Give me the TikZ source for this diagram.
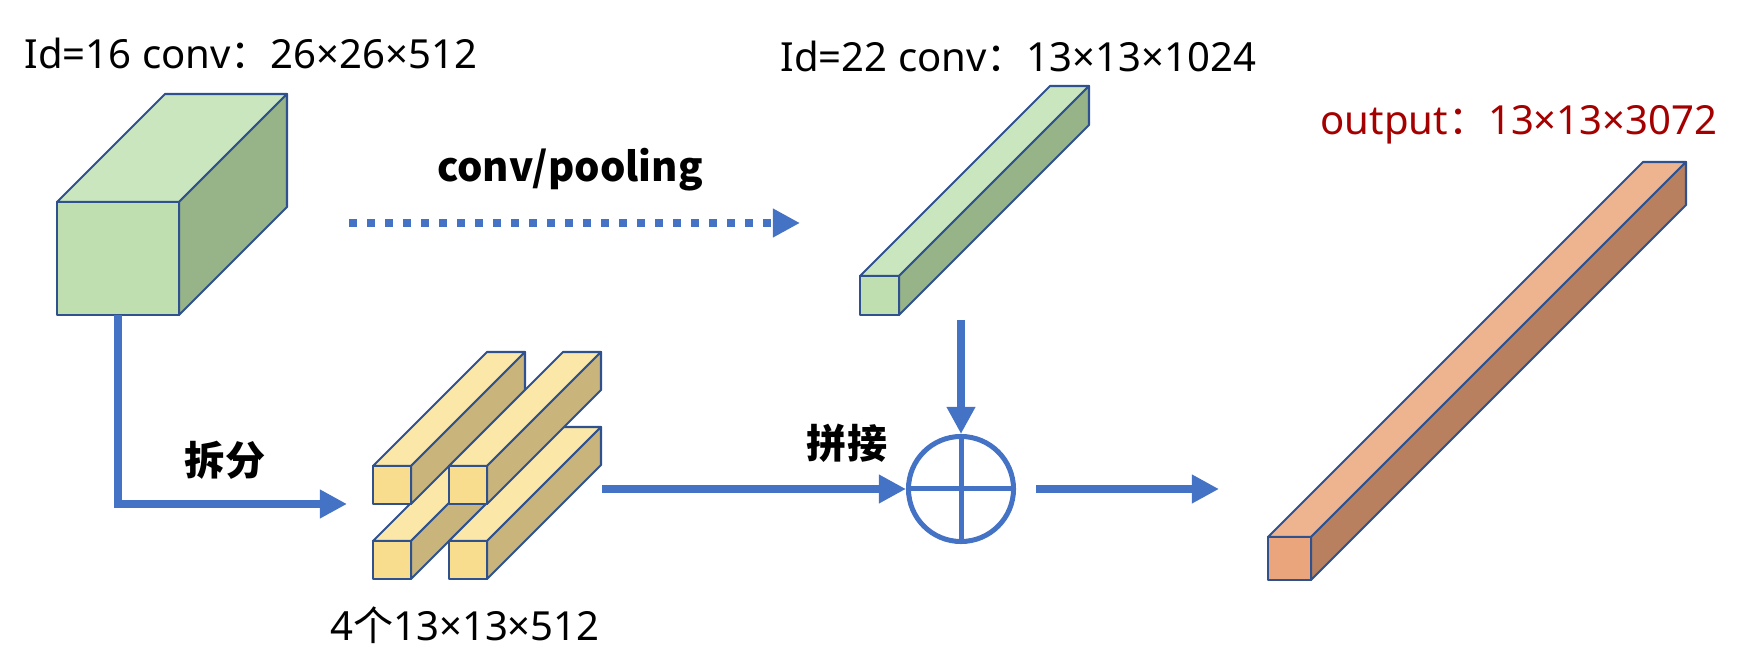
\documentclass[tikz,border=0pt]{standalone}
\usepackage{fontspec}
\setmainfont{Noto Sans}
\newfontfamily\cjk{Noto Sans CJK SC}
\usetikzlibrary{arrows.meta}

\definecolor{edgeblue}{HTML}{2F528F}
\definecolor{arrowblue}{HTML}{4472C4}
\definecolor{outred}{HTML}{A50000}
\definecolor{greenfront}{HTML}{C0DFB0}
\definecolor{greentop}{HTML}{CAE6BF}
\definecolor{greenside}{HTML}{97B388}
\definecolor{yellowfront}{HTML}{F9DD8E}
\definecolor{yellowtop}{HTML}{FBE7A8}
\definecolor{yellowside}{HTML}{C9B47C}
\definecolor{orangefront}{HTML}{EBA57C}
\definecolor{orangetop}{HTML}{EDB48F}
\definecolor{orangeside}{HTML}{B8805E}

\tikzset{
    face/.style = {draw=edgeblue, line width=0.6pt, line join=round},
    txt/.style = {inner sep=0pt, font=\fontsize{11.4}{13}\selectfont},
    boldtxt/.style = {inner sep=0pt, font=\fontsize{11.4}{13}\selectfont\cjk\bfseries},
    arrow/.style = {draw=arrowblue, line width=0.075cm, -{Triangle[width=0.27cm, length=0.27cm]}},
    dotarrow/.style = {arrow, dash pattern=on 0.08cm off 0.1cm},
    plus/.style = {draw=arrowblue, line width=0.05cm, circle, minimum size=1.05cm, inner sep=0pt}
}

% cuboid: name, x, y (front top left), width, height, depth, colour
\newcommand{\cuboid}[7]{%
    \filldraw[face, fill=#7top] (#2,#3) -- ++(#6,-#6) -- ++(#4,0) -- ++(-#6,#6) -- cycle;
    \filldraw[face, fill=#7side] (#2+#4,#3) -- ++(#6,-#6) -- ++(0,#5) -- ++(-#6,#6) -- cycle;
    \filldraw[face, fill=#7front] (#2,#3) rectangle ++(#4,#5);
    \coordinate (#1-bot) at (#2+#4/2,#3+#5);
}

\begin{document}
\begin{tikzpicture}[x=0.01cm, y=-0.01cm]
    \useasboundingbox (0,0) rectangle (1747,655);

    % Bloques
    \cuboid{n16}{57}{202}{122}{113}{108}{green}
    \cuboid{n22}{860}{276}{39}{39}{190}{green}
    \foreach \bx/\by [count=\i] in {373/541, 449/541, 373/466, 449/466}
        {\cuboid{s\i}{\bx}{\by}{38}{38}{114}{yellow}}
    \cuboid{out}{1268}{537}{43}{43}{375}{orange}

    % Textos
    \node (l16) [txt, anchor=west] at (24,53) {Id=16 conv{\cjk ：}26×26×512};
    \node (l22) [txt, anchor=west] at (780,56) {Id=22 conv{\cjk ：}13×13×1024};
    \node (lpool) [boldtxt] at (570,170) {conv/pooling};
    \node (lsplit) [boldtxt] at (225,460) {拆分};
    \node (lcat) [boldtxt] at (847,443) {拼接};
    \node (lfour) [txt] at (465,625) {4{\cjk 个}13×13×512};
    \node (lout) [txt, text=outred] at (1519,125) {output{\cjk ：}13×13×3072};

    % Suma
    \node (cat) [plus] at (961,489) {};
    \draw[arrowblue, line width=0.05cm] (cat.north) -- (cat.south) (cat.west) -- (cat.east);

    % Flechas
    \coordinate (poolfrom) at (349,223);
    \coordinate (poolto) at (800,223);
    \coordinate (splitto) at (347,504);
    \coordinate (catfrom) at (602,489);
    \coordinate (catabove) at (961,320);
    \coordinate (outto) at (1219,489);
    \draw [dotarrow] (poolfrom) -- (poolto);
    \draw [arrow] (n16-bot) |- (splitto);
    \draw [arrow] (catfrom) -- (cat.west);
    \draw [arrow] (catabove) -- (cat.north);
    \draw [arrow, shorten <=0.2cm] (cat.east) -- (outto);
\end{tikzpicture}
\end{document}
